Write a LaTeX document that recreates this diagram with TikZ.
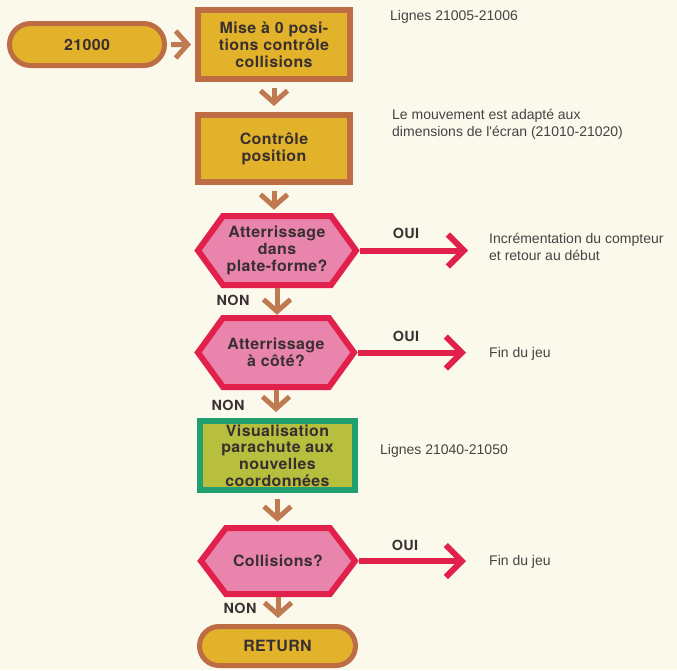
\documentclass[tikz,border=0pt]{standalone}
\usepackage{fontspec}
\setmainfont{TeX Gyre Heros}
\newfontfamily\boxfont[FakeStretch=1.03,LetterSpace=2.5]{TeX Gyre Heros}
\newfontfamily\notefont{Liberation Sans}
\usetikzlibrary{arrows.meta,shapes.misc}
\definecolor{paper}{HTML}{FBF9EC}
\definecolor{gold}{HTML}{E2B32A}
\definecolor{boxbrown}{HTML}{BE6C44}
\definecolor{arrowbrown}{HTML}{BF7A52}
\definecolor{pinkfill}{HTML}{E985AC}
\definecolor{hexred}{HTML}{E2204C}
\definecolor{olive}{HTML}{B8BE3E}
\definecolor{boxgreen}{HTML}{1FA06E}
\definecolor{ink}{HTML}{3A2F30}
\definecolor{notegray}{HTML}{444444}

% decision hexagon: #1 name, #2 centre, #3 half width, #4 half height, #5 text
\newcommand\decision[5]{%
  \begin{scope}[shift={#2}]
    \draw[hexborder] (-#3,0) -- (-#3+25,-#4) -- (#3-25,-#4) -- (#3,0)
      -- (#3-25,#4) -- (-#3+25,#4) -- cycle;
  \end{scope}
  \node[boxtext, minimum width=2*#3 pt, minimum height=2*#4 pt] (#1) at #2 {#5};
}

\begin{document}
\begin{tikzpicture}[x=1pt,y=-1pt,
  boxtext/.style={font=\boxfont\fontsize{15.5}{16.8}\selectfont\bfseries, text=ink,
    align=center, inner sep=0pt},
  procbox/.style={boxtext, rectangle, draw=boxbrown, fill=gold, line width=6pt},
  termbox/.style={boxtext, rounded rectangle, draw=boxbrown, fill=gold, line width=5pt},
  showbox/.style={boxtext, rectangle, draw=boxgreen, fill=olive, line width=6pt},
  hexborder/.style={draw=hexred, fill=pinkfill, line width=6pt, line join=miter},
  flowarrow/.style={draw=arrowbrown, line width=5pt,
    -{Straight Barb[length=12pt,width=27pt]}, shorten <=6pt, shorten >=6pt},
  yesarrow/.style={draw=hexred, line width=6pt,
    -{Straight Barb[length=16pt,width=32pt]}, shorten <=4pt},
  answer/.style={font=\boxfont\fontsize{14}{16}\selectfont\bfseries, text=ink, inner sep=0pt},
  note/.style={font=\notefont\fontsize{14}{16.5}\selectfont, text=notegray,
    align=left, inner sep=0pt},
]
\useasboundingbox (0,0) rectangle (677,670);
\fill[paper] (0,0) rectangle (677,670);

% main column
\node[termbox, minimum width=155pt, minimum height=42pt] (start) at (87,44.5) {21000};
\node[procbox, minimum width=152pt, minimum height=69pt] (reset) at (274,44.5)
  {Mise à 0 posi-\\tions contrôle\\collisions};
\node[procbox, minimum width=152pt, minimum height=67pt] (check) at (274,148.5)
  {Contrôle\\position};
\decision{land}{(277,250.5)}{79}{34.5}{Atterrissage\\dans\\plate-forme?}
\decision{side}{(276,352.5)}{78}{34.5}{Atterrissage\\à côté?}
\node[showbox, minimum width=155pt, minimum height=69pt] (show) at (277.5,455.5)
  {Visualisation\\parachute aux\\nouvelles\\coordonnées};
\decision{coll}{(278,561)}{77}{33}{Collisions?}
\node[termbox, minimum width=156pt, minimum height=39pt] (ret) at (277.5,646) {RETURN};

% flow connectors
\draw[flowarrow, shorten <=4pt, shorten >=4pt] (start) -- (reset);
\draw[flowarrow] (reset.south) -- (reset.south |- check.north);
\draw[flowarrow] (check.south) -- (check.south |- land.north);
\draw[flowarrow, shorten <=3pt, shorten >=3pt] (land.south) -- (land.south |- side.north);
\draw[flowarrow, shorten <=3pt] (side.south) -- (side.south |- show.north);
\draw[flowarrow] (show.south) -- (show.south |- coll.north);
\draw[flowarrow, shorten <=3pt] (coll.south) -- (coll.south |- ret.north);

% "yes" exits
\coordinate (landyes) at (468,250.5);
\coordinate (sideyes) at (466,352.5);
\coordinate (collyes) at (466,561);
\draw[yesarrow] (land.east) -- (landyes);
\draw[yesarrow] (side.east) -- (sideyes);
\draw[yesarrow] (coll.east) -- (collyes);

\node[answer] (oui1) at (406,233) {OUI};
\node[answer] (oui2) at (406,336) {OUI};
\node[answer] (oui3) at (405,545) {OUI};
\node[answer] (non1) at (233,300) {NON};
\node[answer] (non2) at (228,405) {NON};
\node[answer] (non3) at (240,608) {NON};

% side notes
\node[note, anchor=west] (n1) at (390,17) {Lignes 21005-21006};
\node[note, anchor=north west] (n2) at (392,109)
  {Le mouvement est adapté aux\\dimensions de l'écran (21010-21020)};
\node[note, anchor=north west] (n3) at (489,233)
  {Incrémentation du compteur\\et retour au début};
\node[note, anchor=west] (n4) at (489,354) {Fin du jeu};
\node[note, anchor=west] (n5) at (380,451) {Lignes 21040-21050};
\node[note, anchor=west] (n6) at (489,562) {Fin du jeu};
\end{tikzpicture}
\end{document}
